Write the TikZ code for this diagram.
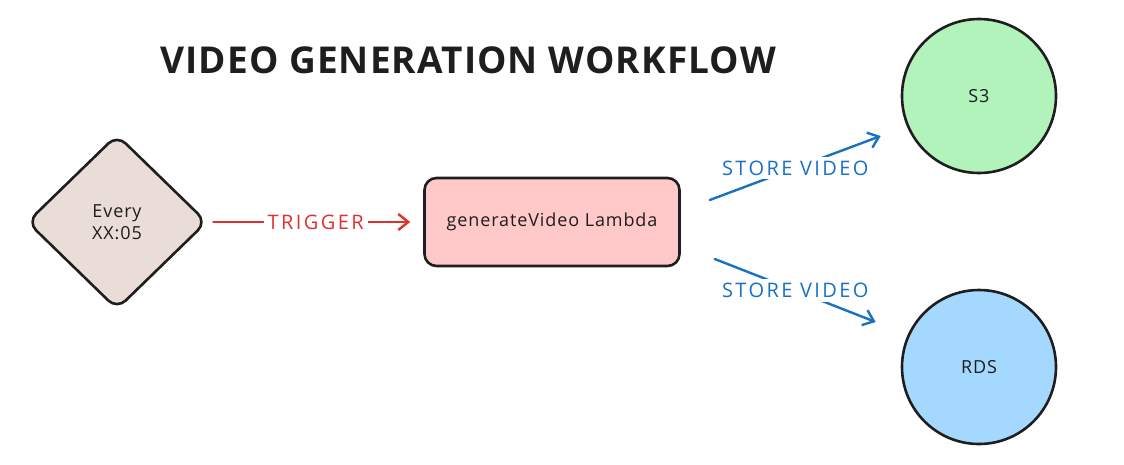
\documentclass[tikz,border=0pt]{standalone}
\usepackage{fontspec}
\setmainfont[LetterSpace=5]{Open Sans}
\newfontfamily\titlefont[LetterSpace=3]{Open Sans}
\newfontfamily\labelfont[LetterSpace=12]{Open Sans}
\usetikzlibrary{shapes.geometric, arrows.meta}
\definecolor{stonefill}{HTML}{EADDD7}
\definecolor{pinkfill}{HTML}{FFC9C9}
\definecolor{greenfill}{HTML}{B2F2BB}
\definecolor{bluefill}{HTML}{A5D8FF}
\definecolor{inkred}{HTML}{E03131}
\definecolor{inkblue}{HTML}{1971C2}
\definecolor{inkdark}{HTML}{1E1E1E}
\tikzset{
  shape line/.style={draw=inkdark, line width=2.6pt},
  body text/.style={font=\fontsize{18}{22}\selectfont, text=inkdark},
  flow arrow/.style={line width=2.4pt, line cap=round, -{Straight Barb[length=10pt,width=16pt,line width=2.4pt]}},
  flow label/.style={fill=white, inner sep=4pt, font=\labelfont\fontsize{20}{22}\selectfont}
}
\begin{document}
\begin{tikzpicture}[x=1pt, y=-1pt]
    \useasboundingbox (0,0) rectangle (1124,464);
    \node[font=\titlefont\bfseries\fontsize{37}{40}\selectfont, text=inkdark] (title) at (468,60) {VIDEO GENERATION WORKFLOW};
    \node[shape line, body text, diamond, fill=stonefill, minimum width=180pt, minimum height=175pt,
          inner sep=0pt, rounded corners=12pt, align=center] (timer) at (117,222) {Every\\XX:05};
    \node[shape line, body text, fill=pinkfill, rounded corners=12pt, minimum width=255pt,
          minimum height=88pt] (lambda) at (552,222) {generateVideo Lambda};
    \node[shape line, body text, circle, fill=greenfill, minimum size=154pt] (s3) at (979,96) {S3};
    \node[shape line, body text, circle, fill=bluefill, minimum size=154pt] (rds) at (979,367) {RDS};
    % connectors
    \draw[flow arrow, inkred, shorten <=5pt, shorten >=13pt] (timer.east) -- node[flow label, text=inkred] {TRIGGER} (lambda.west);
    \draw[flow arrow, inkblue] ([shift={(29,-22)}]lambda.east) -- node[flow label, text=inkblue] {STORE VIDEO} ([shift={(-20,40)}]s3.west);
    \draw[flow arrow, inkblue] ([shift={(34,37)}]lambda.east) -- node[flow label, text=inkblue] {STORE VIDEO} ([shift={(-25,-45)}]rds.west);
\end{tikzpicture}
\end{document}
